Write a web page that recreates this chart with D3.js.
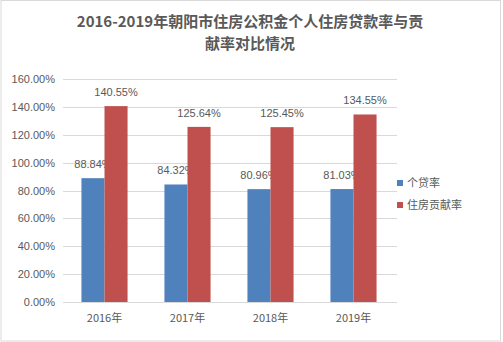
<!DOCTYPE html>
<html><head><meta charset="utf-8">
<script src="https://cdn.jsdelivr.net/npm/d3@7"></script>
<style>
html,body{margin:0;padding:0;background:#fff;}
svg{display:block;}
text{font-family:"Noto Sans CJK SC","Liberation Sans",sans-serif;}
</style></head>
<body>
<svg id="chart" width="503" height="342"></svg>
<script>
const years = ["2016年", "2017年", "2018年", "2019年"];
const loanRate = [88.84, 84.32, 80.96, 81.03];
const contribRate = [140.55, 125.64, 125.45, 134.55];
const seriesNames = ["个贷率", "住房贡献率"];
const seriesColors = ["#4F81BD", "#C0504D"];
const yTicks = [0, 20, 40, 60, 80, 100, 120, 140, 160];
const titleLines = ["2016-2019年朝阳市住房公积金个人住房贷款率与贡", "献率对比情况"];

const svg = d3.select("#chart");
const W = 503, H = 342;
const m = {left: 63, right: 108, top: 79, bottom: 40};

svg.append("rect").attr("x", 1).attr("y", 0.5).attr("width", W - 3.5).attr("height", H - 1.5)
  .attr("fill", "#fff").attr("stroke", "#d9d9d9").attr("stroke-width", 1);

const x = d3.scaleBand().domain(years).range([m.left, W - m.right]).paddingInner(0).paddingOuter(0);
const y = d3.scaleLinear().domain([0, 160]).range([H - m.bottom, m.top]);
const x1 = d3.scaleBand().domain([0, 1]).range([0, x.bandwidth()]).paddingOuter(0.8).paddingInner(0);

// gridlines
svg.append("g").selectAll("line").data(yTicks).join("line")
  .attr("x1", m.left).attr("x2", W - m.right + 2)
  .attr("y1", d => Math.round(y(d)) + 0.5).attr("y2", d => Math.round(y(d)) + 0.5)
  .attr("stroke", "#d9d9d9").attr("stroke-width", 1);

// y axis labels
const yAxis = d3.axisLeft(y).tickValues(yTicks).tickSize(0).tickPadding(8)
  .tickFormat(d => d.toFixed(2) + "%");
const ga = svg.append("g").attr("transform", `translate(${m.left},0)`).call(yAxis);
ga.select(".domain").remove();
ga.selectAll("text").attr("font-size", 11).attr("fill", "#595959")
  .style("font-family", "'Liberation Sans',sans-serif");

// x axis labels
const xAxis = d3.axisBottom(x).tickSize(0).tickPadding(12);
const gx = svg.append("g").attr("transform", `translate(0,${H - m.bottom})`).call(xAxis);
gx.select(".domain").remove();
gx.selectAll("text").attr("font-size", 11).attr("fill", "#595959");

const series = [loanRate, contribRate];
series.forEach((vals, si) => {
  const g = svg.append("g");
  g.selectAll("rect").data(vals).join("rect")
    .attr("x", (d, i) => x(years[i]) + x1(si))
    .attr("width", x1.bandwidth())
    .attr("y", d => y(d))
    .attr("height", d => y(0) - y(d))
    .attr("fill", seriesColors[si]);
  g.selectAll("text").data(vals).join("text")
    .attr("x", (d, i) => x(years[i]) + x1(si) + x1.bandwidth() / 2)
    .attr("y", d => y(d) - 10)
    .attr("text-anchor", "middle")
    .attr("font-size", 11).attr("fill", "#595959")
    .style("font-family", "'Liberation Sans',sans-serif")
    .text(d => d.toFixed(2) + "%");
});

// legend
const lg = svg.append("g").attr("transform", "translate(397,183)");
seriesNames.forEach((name, i) => {
  lg.append("rect").attr("x", 0).attr("y", i * 22 - 3).attr("width", 6).attr("height", 6)
    .attr("fill", seriesColors[i]);
  lg.append("text").attr("x", 10).attr("y", i * 22 + 4).attr("font-size", 11)
    .attr("fill", "#595959").text(name);
});

// title
svg.append("g").selectAll("text").data(titleLines).join("text")
  .attr("x", 250).attr("y", (d, i) => 27 + i * 22)
  .attr("text-anchor", "middle").attr("font-size", 15).attr("font-weight", "bold")
  .attr("fill", "#595959").text(d => d);
</script>
</body></html>
